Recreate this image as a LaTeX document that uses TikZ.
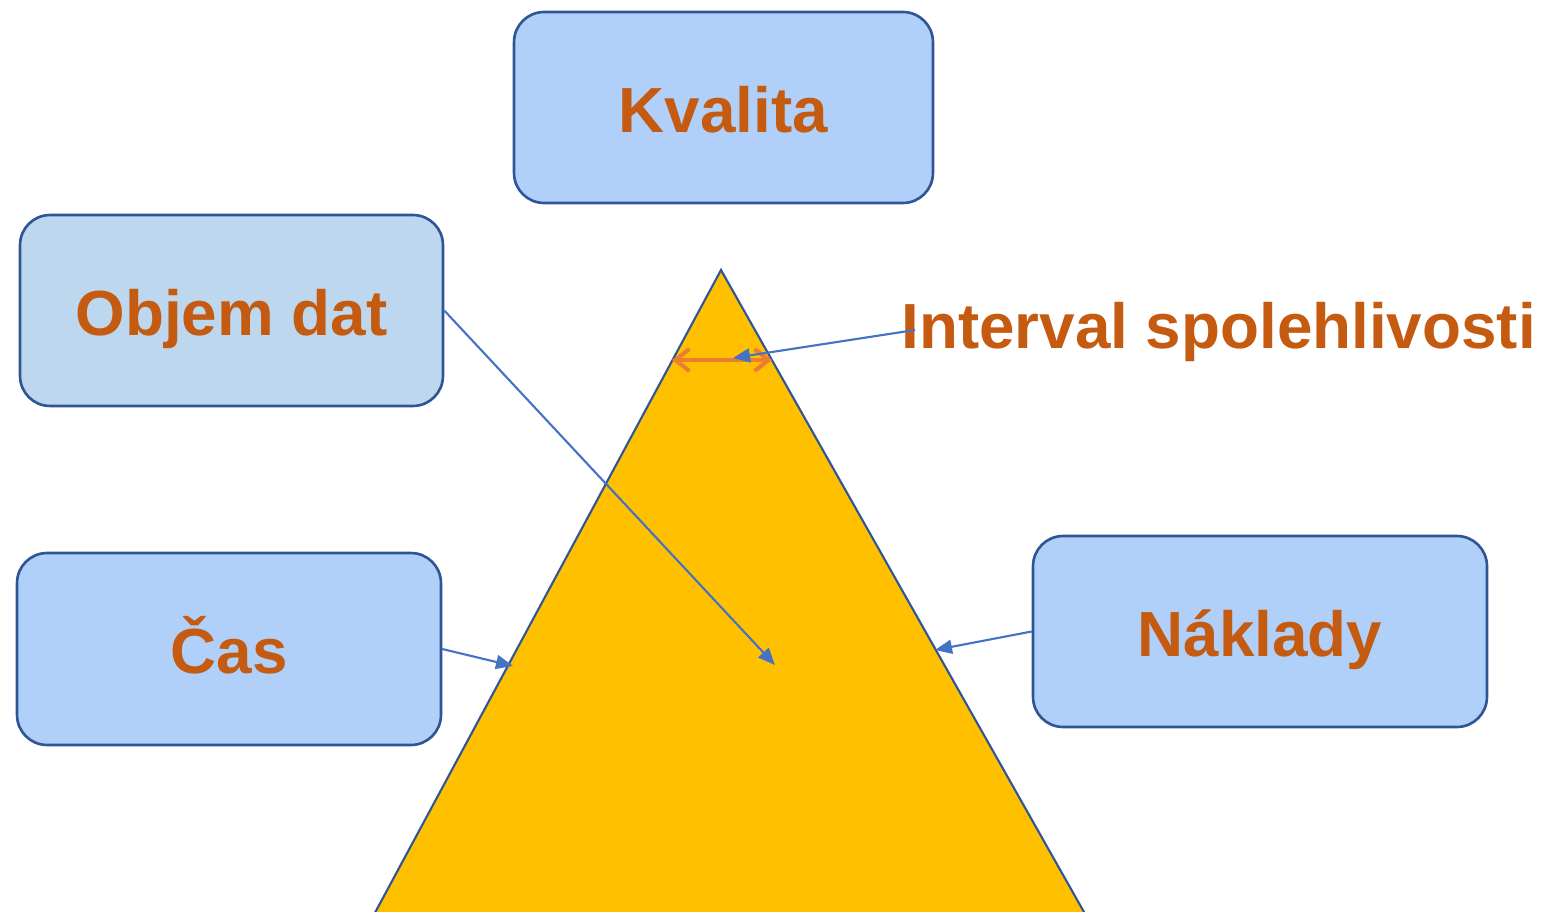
\documentclass[tikz,border=0pt]{standalone}
\usepackage{fontspec}
\setmainfont{Liberation Sans}
\usetikzlibrary{arrows.meta,positioning}
\definecolor{boxblue}{RGB}{176,208,250}
\definecolor{boxgrey}{RGB}{189,215,238}
\definecolor{edgeblue}{RGB}{47,85,151}
\definecolor{linkblue}{RGB}{68,114,196}
\definecolor{txtorange}{RGB}{197,90,17}
\definecolor{tipsorange}{RGB}{237,125,49}
\definecolor{pyramid}{RGB}{255,192,0}

\begin{document}
\begin{tikzpicture}
[x=0.02cm, y=-0.02cm, font=\fontsize{36.3}{40}\selectfont\bfseries,
factor/.style={rectangle, rounded corners=0.6cm, draw=edgeblue, line width=1.5pt,
  fill=boxblue, text=txtorange, inner sep=0pt, text height=28pt, text depth=0pt},
link/.style={draw=linkblue, line width=1.2pt, -{Triangle[length=3.4mm,width=2.8mm]}},
span/.style={draw=tipsorange, line width=2.4pt, {Straight Barb[length=2.8mm,width=4.4mm]}-{Straight Barb[length=2.8mm,width=4.4mm]}}
]
\useasboundingbox (0,0) rectangle (1542,912);
\clip (0,0) rectangle (1542,912);

% pyramid
\draw[fill=pyramid, draw=edgeblue, line width=1.2pt] (721,270) -- (1097,935) -- (363,935) -- cycle;
\coordinate (apexL) at (672,360);
\coordinate (apexR) at (772,360);
\coordinate (mid) at (775,665);
\coordinate (sideL) at (513,666);
\coordinate (sideR) at (935,650);
\coordinate (spanmid) at (733,358);

% boxes
\node[factor, minimum width=8.38cm, minimum height=3.82cm] (kvalita) at (723.5,107.5) {Kvalita};
\node[factor, fill=boxgrey, minimum width=8.46cm, minimum height=3.82cm] (objem) at (231.5,310.5) {Objem dat};
\node[factor, minimum width=8.48cm, minimum height=3.84cm] (cas) at (229,649) {Čas};
\node[factor, minimum width=9.08cm, minimum height=3.82cm] (naklady) at (1260,631.5) {Náklady};
\node[anchor=west, text=txtorange, inner sep=0pt] (interval) at (901,332) {Interval spolehlivosti};

% links
\draw[span] (apexL) -- (apexR);
\draw[link] (objem.east) -- (mid);
\draw[link] (cas.east) -- (sideL);
\draw[link] (naklady.west) -- (sideR);
\draw[link] (interval.west) ++(14,-2) -- (spanmid);
\end{tikzpicture}
\end{document}
